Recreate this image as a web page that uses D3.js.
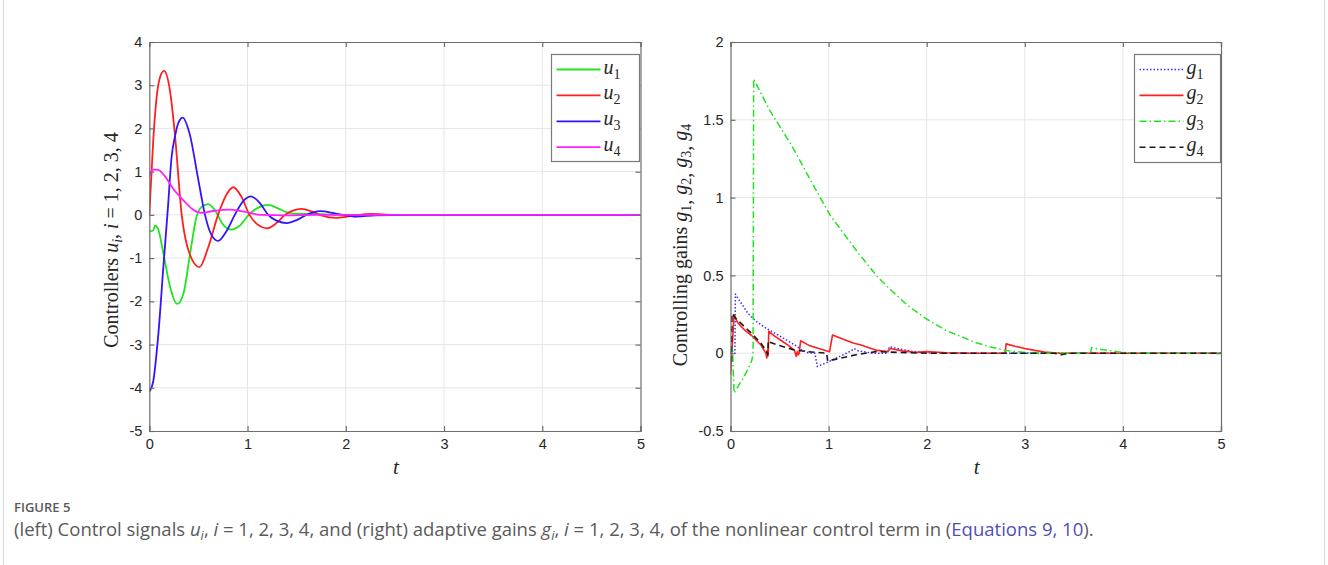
<!DOCTYPE html>
<html>
<head>
<meta charset="utf-8">
<script src="https://cdn.jsdelivr.net/npm/d3@7"></script>
<style>
  body { margin: 0; background: #fff; }
  svg text { font-kerning: normal; }
</style>
</head>
<body>
<svg id="fig" width="1328" height="565"></svg>
<script>
// ---- time axis ----
const tTicks = [0, 1, 2, 3, 4, 5];

// ---- left panel: control signals u_i(t), [t, value] ----
const uTicks = [4, 3, 2, 1, 0, -1, -2, -3, -4, -5];
const u1 = [[0,-0.38],[0.04,-0.36],[0.058,-0.25],[0.09,-0.33],[0.14,-0.85],[0.21,-1.65],[0.285,-2.06],[0.35,-1.8],[0.415,-0.9],[0.48,-0.05],[0.53,0.18],[0.6,0.25],[0.67,0.1],[0.75,-0.22],[0.83,-0.34],[0.92,-0.25],[1.02,0.02],[1.12,0.18],[1.21,0.23],[1.31,0.15],[1.4,0.06],[1.52,0.02],[1.7,0.02],[1.9,0],[2.2,0],[5,0]];
const u2 = [[0,0],[0.04,1.72],[0.075,2.73],[0.11,3.19],[0.15,3.33],[0.21,2.88],[0.26,1.88],[0.33,0],[0.41,-0.9],[0.51,-1.21],[0.6,-0.75],[0.7,0],[0.79,0.49],[0.855,0.64],[0.94,0.41],[1.02,0],[1.1,-0.22],[1.2,-0.31],[1.3,-0.18],[1.38,0],[1.46,0.1],[1.55,0.14],[1.65,0.08],[1.75,-0.01],[1.9,-0.07],[2.05,-0.03],[2.25,0.02],[2.5,0],[5,0]];
const u3 = [[0,-4.09],[0.04,-3.85],[0.092,-2.76],[0.143,-1.21],[0.19,0.18],[0.227,1.34],[0.26,1.8],[0.3,2.15],[0.34,2.25],[0.41,1.88],[0.5,0.8],[0.567,0],[0.63,-0.45],[0.7,-0.6],[0.79,-0.36],[0.87,0],[0.96,0.33],[1.035,0.43],[1.13,0.26],[1.21,0],[1.3,-0.14],[1.4,-0.19],[1.5,-0.12],[1.6,0],[1.74,0.085],[1.9,0.03],[2.11,-0.04],[2.3,-0.01],[2.6,0],[5,0]];
const u4 = [[0,0.89],[0.04,1.05],[0.09,1.04],[0.15,0.92],[0.245,0.6],[0.35,0.33],[0.43,0.15],[0.53,0.05],[0.65,0.09],[0.82,0.12],[0.95,0.08],[1.13,0],[1.4,-0.01],[1.7,0],[5,0]];

// ---- right panel: adaptive gains g_i(t), [t, value] ----
const gTicks = [2, 1.5, 1, 0.5, 0, -0.5];
const g1 = [[0,0],[0.045,0],[0.05,0.38],[0.1,0.33],[0.178,0.256],[0.26,0.205],[0.348,0.167],[0.42,0.14],[0.484,0.117],[0.57,0.085],[0.654,0.053],[0.72,0.025],[0.79,0.003],[0.86,0],[0.885,-0.086],[1.0,-0.055],[1.1,-0.025],[1.23,0.015],[1.26,0.03],[1.3,0.015],[1.45,0],[1.6,0],[1.62,0.042],[1.7,0.03],[1.85,0.012],[2.0,0.003],[2.3,0],[5,0]];
const g2 = [[0,-0.14],[0.036,0.245],[0.07,0.2],[0.11,0.17],[0.16,0.14],[0.21,0.117],[0.26,0.085],[0.31,0.053],[0.36,0],[0.37,-0.03],[0.375,0.02],[0.38,-0.02],[0.385,0],[0.39,0.14],[0.45,0.11],[0.52,0.08],[0.59,0.05],[0.65,0.02],[0.67,-0.02],[0.68,0.01],[0.69,-0.01],[0.7,0],[0.715,0.08],[0.8,0.05],[0.9,0.03],[1.01,0.01],[1.04,0.117],[1.15,0.09],[1.25,0.065],[1.33,0.053],[1.48,0.02],[1.6,0.01],[1.63,0.03],[1.75,0.015],[1.9,0.005],[2.0,0.01],[2.2,0.003],[2.5,0],[2.8,0],[2.81,0.06],[2.9,0.045],[3.0,0.03],[3.1,0.018],[3.2,0.008],[3.36,0],[5,0]];
const g3 = [[0,0],[0.02,0.04],[0.036,-0.256],[0.08,-0.21],[0.13,-0.16],[0.18,-0.1],[0.215,-0.05],[0.23,-0.01],[0.236,1.763],[0.4,1.56],[0.628,1.33],[0.8,1.13],[1.012,0.89],[1.2,0.73],[1.307,0.64],[1.5,0.49],[1.646,0.4],[1.8,0.31],[1.986,0.225],[2.2,0.145],[2.495,0.07],[2.65,0.04],[2.81,0.017],[3.0,0.004],[3.2,0],[3.67,0],[3.68,0.036],[3.8,0.022],[4.0,0.005],[4.2,0],[5,0]];
const g4 = [[0,-0.05],[0.01,-0.05],[0.015,0.256],[0.06,0.22],[0.11,0.19],[0.21,0.13],[0.31,0.064],[0.37,0.01],[0.38,-0.01],[0.385,0.08],[0.4,0.07],[0.5,0.05],[0.65,0.02],[0.79,0.01],[0.98,0],[0.99,-0.05],[1.1,-0.035],[1.28,-0.01],[1.48,0.01],[1.52,0.01],[1.7,0.005],[2.0,0],[3.3,0],[3.37,-0.01],[3.45,0],[5,0]];

const svg = d3.select("#fig");
const serif = "'Liberation Serif','DejaVu Serif',serif";
const sans = "'Liberation Sans',Arial,sans-serif";

// light frame around the figure block
svg.append("rect").attr("x", 3.5).attr("y", -2).attr("width", 1321).attr("height", 570)
  .attr("fill", "none").attr("stroke", "#d9d9d9");

function panel(cfg) {
  const x = d3.scaleLinear().domain([0, 5]).range([cfg.left, cfg.right]);
  const y = d3.scaleLinear().domain(cfg.yDomain).range([cfg.bottom, cfg.top]);
  const g = svg.append("g");
  const clipId = "clip-" + cfg.id;
  g.append("clipPath").attr("id", clipId).append("rect")
    .attr("x", cfg.left).attr("y", cfg.top)
    .attr("width", cfg.right - cfg.left).attr("height", cfg.bottom - cfg.top);

  // grid
  g.append("g").selectAll("line").data(tTicks.slice(1, -1)).join("line")
    .attr("x1", d => x(d)).attr("x2", d => x(d)).attr("y1", cfg.top).attr("y2", cfg.bottom)
    .attr("stroke", "#e6e6e6").attr("stroke-width", 1);
  g.append("g").selectAll("line").data(cfg.yTicks.slice(1, -1)).join("line")
    .attr("y1", d => y(d)).attr("y2", d => y(d)).attr("x1", cfg.left).attr("x2", cfg.right)
    .attr("stroke", "#e6e6e6").attr("stroke-width", 1);

  // curves
  const lines = g.append("g").attr("clip-path", `url(#${clipId})`);
  cfg.series.forEach(s => {
    const gen = d3.line().x(d => x(d[0])).y(d => y(d[1])).curve(s.curve || d3.curveLinear);
    lines.append("path").datum(s.data).attr("d", gen)
      .attr("fill", "none").attr("stroke", s.color).attr("stroke-width", s.width)
      .attr("stroke-dasharray", s.dash || null).attr("stroke-linejoin", "round");
  });

  // axes box with inward ticks on every side
  const axColor = "#6e6e6e";
  const tl = 5;
  const axB = d3.axisBottom(x).tickValues(tTicks).tickSize(-tl).tickPadding(8).tickFormat(d3.format("d"));
  const axT = d3.axisTop(x).tickValues(tTicks).tickSize(-tl).tickFormat("");
  const fmt = d => String(d).replace("\u2212", "-");
  const axL = d3.axisLeft(y).tickValues(cfg.yTicks).tickSize(-tl).tickPadding(7).tickFormat(fmt);
  const axR = d3.axisRight(y).tickValues(cfg.yTicks).tickSize(-tl).tickFormat("");
  const style = sel => {
    sel.selectAll("path,line").attr("stroke", axColor).attr("stroke-width", 1.2);
    sel.selectAll("text").attr("fill", "#262626").style("font-family", sans).style("font-size", "14.5px");
  };
  g.append("g").attr("transform", `translate(0,${cfg.bottom})`).call(axB).call(style);
  g.append("g").attr("transform", `translate(0,${cfg.top})`).call(axT).call(style);
  g.append("g").attr("transform", `translate(${cfg.left},0)`).call(axL).call(style);
  g.append("g").attr("transform", `translate(${cfg.right},0)`).call(axR).call(style);

  // x label
  g.append("text").attr("x", (cfg.left + cfg.right) / 2 + 1).attr("y", 474)
    .attr("text-anchor", "middle").style("font-family", serif).style("font-style", "italic")
    .style("font-size", "21px").attr("fill", "#262626").text("t");

  // y label
  const yl = g.append("text")
    .attr("transform", `translate(${cfg.ylabelX},${cfg.ylabelY}) rotate(-90)`)
    .attr("text-anchor", "middle").style("font-family", serif).style("font-size", "20px").attr("fill", "#262626");
  cfg.ylabel(yl);

  // legend
  const L = cfg.legend;
  g.append("rect").attr("x", L.x).attr("y", L.y).attr("width", L.w).attr("height", L.h)
    .attr("fill", "#fff").attr("stroke", "#7a7a7a").attr("stroke-width", 1.2);
  cfg.series.forEach((s, i) => {
    const cy = L.y + 15 + i * 25.9;
    g.append("line").attr("x1", L.x + 5).attr("x2", L.x + 49).attr("y1", cy).attr("y2", cy)
      .attr("stroke", s.color).attr("stroke-width", s.width).attr("stroke-dasharray", s.dash || null);
    const t = g.append("text").attr("x", L.x + 52).attr("y", cy + 4)
      .style("font-family", serif).style("font-size", "20px").attr("fill", "#262626");
    t.append("tspan").style("font-style", "italic").text(s.sym);
    t.append("tspan").attr("dy", 5).style("font-size", "14px").text(String(i + 1));
  });
}

function mathLabel(sel, word, sym) {
  sel.append("tspan").text(word + " ");
  if (sym === "u") {
    sel.append("tspan").style("font-style", "italic").text("u");
    sel.append("tspan").attr("dy", 4).style("font-size", "14px").style("font-style", "italic").text("i");
    sel.append("tspan").attr("dy", -4).text(", ");
    sel.append("tspan").style("font-style", "italic").text("i");
    sel.append("tspan").text(" = 1, 2, 3, 4");
  } else {
    [1, 2, 3, 4].forEach((k, i) => {
      sel.append("tspan").attr("dy", i === 0 ? 0 : -4).style("font-style", "italic").text("g");
      sel.append("tspan").attr("dy", 4).style("font-size", "14px").text(String(k));
      if (i < 3) sel.append("tspan").attr("dy", 0).text(", ");
    });
  }
}

panel({
  id: "u", left: 149.3, right: 640.5, top: 42, bottom: 431,
  yDomain: [-5, 4], yTicks: uTicks,
  ylabelX: 118, ylabelY: 240,
  ylabel: sel => mathLabel(sel, "Controllers", "u"),
  legend: { x: 551.5, y: 54.5, w: 88, h: 107 },
  series: [
    { data: u1, color: "#1fe51f", width: 1.8, sym: "u", curve: d3.curveMonotoneX },
    { data: u2, color: "#ff1f1f", width: 1.8, sym: "u", curve: d3.curveMonotoneX },
    { data: u3, color: "#3314ff", width: 1.8, sym: "u", curve: d3.curveMonotoneX },
    { data: u4, color: "#ff1fff", width: 1.8, sym: "u", curve: d3.curveMonotoneX }
  ]
});

panel({
  id: "g", left: 730.5, right: 1221, top: 42, bottom: 431,
  yDomain: [-0.5, 2], yTicks: gTicks,
  ylabelX: 687, ylabelY: 245,
  ylabel: sel => mathLabel(sel, "Controlling gains", "g"),
  legend: { x: 1134.5, y: 54.5, w: 86, h: 108 },
  series: [
    { data: g1, color: "#3a2bff", width: 1.5, dash: "1.5,2", sym: "g" },
    { data: g2, color: "#ff1f1f", width: 1.6, sym: "g" },
    { data: g3, color: "#1fe51f", width: 1.5, dash: "7,3,1.5,3", sym: "g" },
    { data: g4, color: "#1a1a1a", width: 1.6, dash: "6,4", sym: "g" }
  ]
});

// caption
const capFont = "'Open Sans','Noto Sans',sans-serif";
svg.append("text").attr("x", 14).attr("y", 512).style("font-family", capFont)
  .style("font-size", "13px").style("font-weight", 600).attr("fill", "#5a5a5a").text("FIGURE 5");
const cap = svg.append("text").attr("x", 14).attr("y", 536).style("font-family", capFont)
  .style("font-size", "18.5px").attr("fill", "#5a5a5a");
const part = (txt, opt = {}) => {
  const s = cap.append("tspan").text(txt);
  if (opt.it) s.style("font-style", "italic");
  if (opt.sub) s.attr("dy", 4).style("font-size", "13px");
  if (opt.up) s.attr("dy", -4);
  if (opt.fill) s.attr("fill", opt.fill);
  return s;
};
part("(left) Control signals ");
part("u", { it: true }); part("i", { it: true, sub: true }); part(", ", { up: true });
part("i", { it: true }); part(" = 1, 2, 3, 4, and (right) adaptive gains ");
part("g", { it: true }); part("i", { it: true, sub: true }); part(", ", { up: true });
part("i", { it: true }); part(" = 1, 2, 3, 4, of the nonlinear control term in (");
part("Equations 9, 10", { fill: "#4f4fb8" });
part(").");
</script>
</body>
</html>
